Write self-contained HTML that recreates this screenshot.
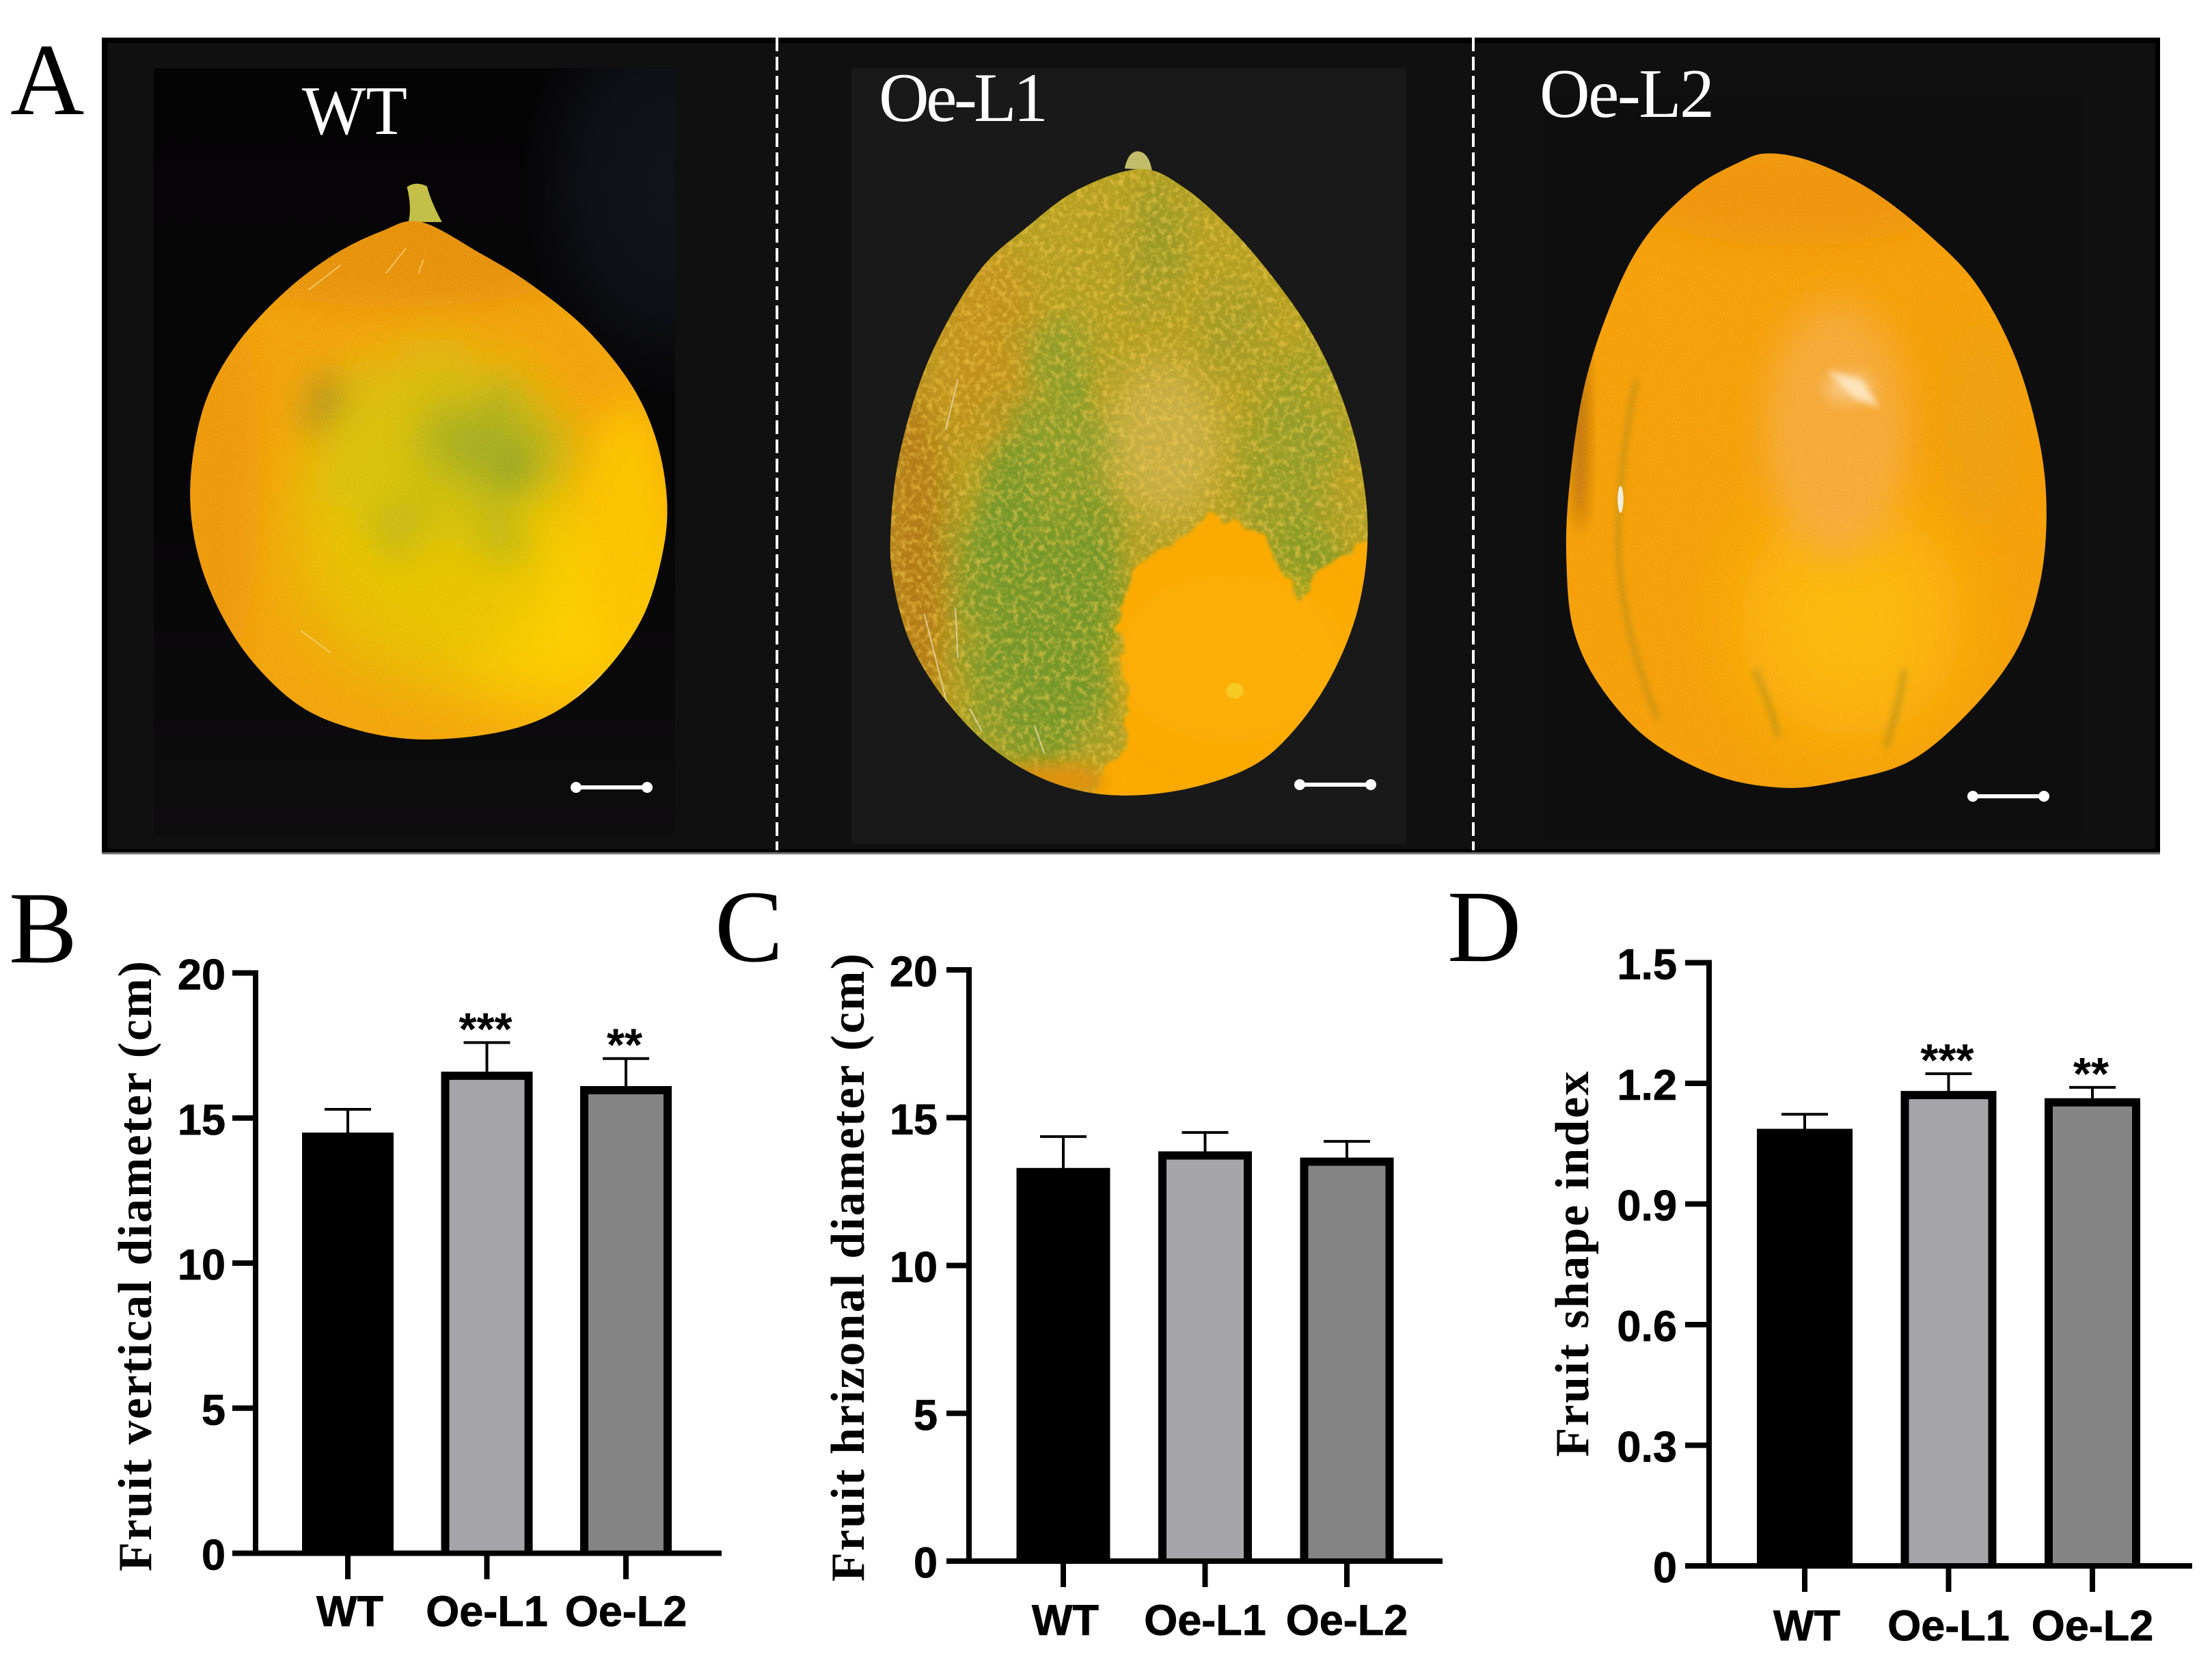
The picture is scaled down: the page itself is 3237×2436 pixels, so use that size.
<!DOCTYPE html>
<html lang="en">
<head>
<meta charset="utf-8">
<title>Melon fruit phenotype figure</title>
<style>
html,body{margin:0;padding:0;background:#fff;width:3237px;height:2436px;overflow:hidden}
svg{display:block}
.panel-letter{font-family:"Liberation Serif",serif;font-size:150px;fill:#000}
.photo-label{font-family:"Liberation Serif",serif;font-size:102px;fill:#fff}
.tick-label{font-family:"Liberation Sans",sans-serif;font-weight:bold;font-size:63px;fill:#000;stroke:#000;stroke-width:0.8px}
.axis-title{font-family:"Liberation Serif",serif;font-weight:bold;font-size:70px;fill:#000}
.star{font-family:"Liberation Sans",sans-serif;font-weight:bold;font-size:67px;fill:#000}
</style>
</head>
<body>
<svg id="figure" xmlns="http://www.w3.org/2000/svg" width="3237" height="2436" viewBox="0 0 3237 2436">
<defs>
  <linearGradient id="wt-inset-fill" x1="0" y1="0" x2="0" y2="1">
    <stop offset="0" stop-color="#050405"/>
    <stop offset="0.6" stop-color="#070607"/>
    <stop offset="1" stop-color="#0e0d0e"/>
  </linearGradient>
  <radialGradient id="wt-shadow-fill">
    <stop offset="0" stop-color="#14161d"/>
    <stop offset="0.55" stop-color="#11131a"/>
    <stop offset="1" stop-color="#11131a" stop-opacity="0"/>
  </radialGradient>
  <filter id="b6" x="-50%" y="-50%" width="200%" height="200%"><feGaussianBlur stdDeviation="6"/></filter>
  <filter id="b15" x="-50%" y="-50%" width="200%" height="200%"><feGaussianBlur stdDeviation="15"/></filter>
  <filter id="b35" x="-60%" y="-60%" width="220%" height="220%"><feGaussianBlur stdDeviation="35"/></filter>
  <filter id="b70" x="-80%" y="-80%" width="260%" height="260%"><feGaussianBlur stdDeviation="70"/></filter>
  <filter id="mottle" filterUnits="userSpaceOnUse" x="0" y="0" width="1600" height="1600">
    <feTurbulence type="fractalNoise" baseFrequency="0.012" numOctaves="3" seed="4" result="n"/>
    <feDisplacementMap in="SourceGraphic" in2="n" scale="130" xChannelSelector="R" yChannelSelector="G"/>
    <feGaussianBlur stdDeviation="12"/>
  </filter>
  <filter id="mottle-soft" filterUnits="userSpaceOnUse" x="0" y="0" width="1600" height="1600">
    <feTurbulence type="fractalNoise" baseFrequency="0.012" numOctaves="3" seed="4" result="n"/>
    <feDisplacementMap in="SourceGraphic" in2="n" scale="110" xChannelSelector="R" yChannelSelector="G"/>
    <feGaussianBlur stdDeviation="28"/>
  </filter>
  <filter id="edge" filterUnits="userSpaceOnUse" x="0" y="0" width="1600" height="1600">
    <feTurbulence type="fractalNoise" baseFrequency="0.03" numOctaves="2" seed="9" result="n"/>
    <feDisplacementMap in="SourceGraphic" in2="n" scale="34" xChannelSelector="R" yChannelSelector="G"/>
    <feGaussianBlur stdDeviation="3"/>
  </filter>
  <filter id="speckle" x="0" y="0" width="100%" height="100%">
    <feTurbulence type="fractalNoise" baseFrequency="0.09" numOctaves="2" seed="7"/>
    <feColorMatrix type="matrix" values="0 0 0 0 0.95  0 0 0 0 0.62  0 0 0 0 0.08  2.8 0 0 0 -1.2"/>
  </filter>
  <filter id="grain" x="0" y="0" width="100%" height="100%">
    <feTurbulence type="fractalNoise" baseFrequency="0.22" numOctaves="2" seed="3"/>
    <feColorMatrix type="matrix" values="0 0 0 0 0.98  0 0 0 0 0.72  0 0 0 0 0.1  2 0 0 0 -0.9"/>
  </filter>
  <clipPath id="clip-wt"><path id="clip-wt-path"/></clipPath>
  <clipPath id="clip-l1"><path id="clip-l1-path"/></clipPath>
  <clipPath id="clip-l2"><path id="clip-l2-path"/></clipPath>
  <clipPath id="clip-wt-inset"><rect x="307" y="123" width="1040" height="1374"/></clipPath>
</defs>

<rect width="3237" height="2436" fill="#fff"/>

<!-- Panel A -->
<g>
  <rect x="149" y="55" width="3012" height="1195" fill="#000"/>
  <rect x="157" y="63" width="2997" height="1179" fill="#101010"/>
  <rect x="149" y="1247" width="3012" height="3" fill="#777"/>

  <rect x="225" y="100" width="763" height="1122" fill="url(#wt-inset-fill)"/>
  <rect x="1246" y="100" width="812" height="1134" fill="#191919"/>
  <rect x="2261" y="140" width="787" height="1085" fill="#0e0e0e"/>

  <!-- WT fruit -->
  <g transform="scale(0.7334 0.8163)">
    <g clip-path="url(#clip-wt-inset)">
      <ellipse cx="1340" cy="330" rx="300" ry="380" fill="url(#wt-shadow-fill)" opacity="0.85"/>
    </g>
    <path id="wt-stem" d="M812 335 Q830 324 852 334 Q860 362 882 398 L815 398 Q822 370 812 335Z" fill="#c4bf48"/>
    <path id="wt-body" fill="#f2a40c"/>
    <g clip-path="url(#clip-wt)">
      <ellipse cx="800" cy="440" rx="420" ry="110" fill="#e69210" filter="url(#b35)"/>
      <ellipse cx="430" cy="850" rx="90" ry="360" fill="#ee9a0a" filter="url(#b35)"/>
      <ellipse cx="1110" cy="1080" rx="250" ry="200" fill="#ffcf00" filter="url(#b70)"/>
      <ellipse cx="1250" cy="950" rx="90" ry="230" fill="#fdc402" filter="url(#b35)"/>
      <ellipse cx="850" cy="960" rx="260" ry="250" fill="#e6c404" filter="url(#b70)"/>
      <g filter="url(#mottle-soft)">
        <ellipse cx="880" cy="800" rx="250" ry="180" fill="#d4c20e" opacity="0.7" filter="url(#b35)"/>
        <ellipse cx="960" cy="800" rx="120" ry="90" fill="#9cab28" opacity="0.85" filter="url(#b35)"/>
        <ellipse cx="1035" cy="840" rx="36" ry="34" fill="#86a02c" opacity="0.85" filter="url(#b15)"/>
        <ellipse cx="640" cy="715" rx="50" ry="42" fill="#a8921e" opacity="0.8" filter="url(#b15)"/>
        <ellipse cx="800" cy="930" rx="60" ry="50" fill="#bcb41c" opacity="0.6" filter="url(#b15)"/>
        <ellipse cx="1000" cy="950" rx="50" ry="50" fill="#b2b41e" opacity="0.6" filter="url(#b15)"/>
      </g>
      <rect x="370" y="390" width="970" height="940" filter="url(#grain)" opacity="0.16"/>
      <path d="M615 520 L680 475 M770 490 L810 445 M835 490 L845 465 M600 1130 L660 1170 M1150 1250 L1200 1210" stroke="#f4d070" stroke-width="3" fill="none" opacity="0.7"/>
    </g>
  </g>

  <!-- Oe-L1 fruit -->
  <g transform="translate(1100 0) scale(0.7015 0.8163)">
    <path d="M778 302 Q785 272 805 271 Q828 272 835 305Z" fill="#c2bd6a"/>
    <path id="l1-body" fill="#b5a024"/>
    <g clip-path="url(#clip-l1)">
      <ellipse cx="340" cy="1000" rx="70" ry="340" fill="#b57c12" filter="url(#b35)"/>
      <ellipse cx="480" cy="620" rx="120" ry="190" fill="#c1931a" filter="url(#b35)"/>
      <g filter="url(#mottle)">
        <ellipse cx="610" cy="1060" rx="180" ry="320" fill="#76982a" filter="url(#b35)"/>
        <ellipse cx="650" cy="760" rx="80" ry="200" fill="#8a9d2a" filter="url(#b35)"/>
        <ellipse cx="840" cy="430" rx="60" ry="110" fill="#87962a" opacity="0.65" filter="url(#b35)"/>
        <ellipse cx="1130" cy="860" rx="90" ry="230" fill="#8d9d2a" opacity="0.85" filter="url(#b35)"/>
        <ellipse cx="1170" cy="1010" rx="70" ry="70" fill="#8a9c28" filter="url(#b15)"/>
        <ellipse cx="1010" cy="590" rx="50" ry="90" fill="#93992a" opacity="0.6" filter="url(#b35)"/>
      </g>
      <ellipse cx="860" cy="790" rx="120" ry="140" fill="#c9b14c" opacity="0.85" filter="url(#b35)"/>
      <rect x="280" y="270" width="1020" height="1170" filter="url(#speckle)" opacity="0.55"/>
      <path filter="url(#edge)" d="M790 1020 L960 925 L1060 950 L1100 1010 L1140 1080 L1200 1010 L1300 960 L1320 1450 L680 1450 L790 1320 L765 1120Z" fill="#fbaa06"/>
      <ellipse cx="1000" cy="1180" rx="240" ry="150" fill="#ffb208" opacity="0.6" filter="url(#b35)"/>
      <ellipse cx="620" cy="1400" rx="120" ry="30" fill="#e0920c" filter="url(#b15)"/>
      <path d="M430 680 L405 770 M360 1100 L410 1270 M425 1090 L430 1180 M590 1300 L610 1350 M455 1270 L480 1310" stroke="#e9dcb0" stroke-width="3" fill="none" opacity="0.75"/>
      <ellipse cx="1008" cy="1238" rx="18" ry="14" fill="#f5cf2a" opacity="0.8"/>
    </g>
  </g>

  <!-- Oe-L2 fruit -->
  <g transform="translate(2130 0) scale(0.706 0.8163)">
    <path id="l2-body" fill="#f5a00a"/>
    <g clip-path="url(#clip-l2)">
      <ellipse cx="700" cy="350" rx="330" ry="90" fill="#ef950f" filter="url(#b35)"/>
      <ellipse cx="258" cy="760" rx="16" ry="190" fill="#b8700f" filter="url(#b15)"/>
      <ellipse cx="820" cy="1110" rx="230" ry="210" fill="#fbb807" filter="url(#b70)"/>
      <ellipse cx="790" cy="770" rx="150" ry="230" fill="#f5ac40" opacity="0.9" filter="url(#b35)"/>
      <ellipse cx="815" cy="695" rx="50" ry="22" fill="#fbd9b0" opacity="0.7" filter="url(#b15)"/>
      <path d="M770 665 L840 680 L880 730 L830 715 Z" fill="#fff0d8" opacity="0.75" filter="url(#b6)"/>
      <ellipse cx="1090" cy="760" rx="70" ry="170" fill="#e6a212" opacity="0.6" filter="url(#b35)"/>
      <g filter="url(#b6)" opacity="0.5" fill="none" stroke="#ab8a1c">
        <path d="M375 680 Q345 800 338 930 Q330 1100 420 1290" stroke-width="12"/>
        <path d="M620 1200 Q650 1260 670 1320 M930 1200 Q920 1270 890 1340" stroke-width="14"/>
      </g>
      <rect x="220" y="270" width="1020" height="1150" filter="url(#grain)" opacity="0.14"/>
      <ellipse cx="342" cy="895" rx="6" ry="24" fill="#efeedd"/>
    </g>
  </g>

  <g fill="none" stroke="#fff" stroke-width="4" stroke-dasharray="20 8">
    <line x1="1137" y1="55" x2="1137" y2="1244"/>
    <line x1="2156" y1="55" x2="2156" y2="1244"/>
  </g>

  <g stroke="#fff" stroke-width="6" fill="#fff">
    <line x1="843" y1="1152" x2="947" y2="1152"/><circle cx="843" cy="1152" r="8" stroke="none"/><circle cx="947" cy="1152" r="8" stroke="none"/>
  </g>
  <g stroke="#fff" stroke-width="6" fill="#fff">
    <line x1="1902" y1="1148" x2="2006" y2="1148"/><circle cx="1902" cy="1148" r="8" stroke="none"/><circle cx="2006" cy="1148" r="8" stroke="none"/>
  </g>
  <g stroke="#fff" stroke-width="6" fill="#fff">
    <line x1="2887" y1="1165" x2="2991" y2="1165"/><circle cx="2887" cy="1165" r="8" stroke="none"/><circle cx="2991" cy="1165" r="8" stroke="none"/>
  </g>

  <text class="photo-label" x="442" y="196" textLength="154" lengthAdjust="spacingAndGlyphs">WT</text>
  <text class="photo-label" x="1286" y="177" textLength="248" lengthAdjust="spacing">Oe-L1</text>
  <text class="photo-label" x="2253" y="171" textLength="256" lengthAdjust="spacing">Oe-L2</text>
</g>

<text class="panel-letter" x="15" y="167">A</text>
<text class="panel-letter" x="13" y="1408">B</text>
<text class="panel-letter" x="1046" y="1406">C</text>
<text class="panel-letter" x="2118" y="1406">D</text>

<g id="charts"></g>
</svg>

<script>
// ---- Chart data ----
var categories = ['WT', 'Oe-L1', 'Oe-L2'];
var barFills = ['#000000', '#a5a4a8', '#848484'];

var verticalMeans = [14.5, 16.6, 16.1];
var verticalErrors = [0.8, 1.0, 0.95];
var verticalStars = ['', '***', '**'];
var verticalTicks = [0, 5, 10, 15, 20];
var verticalTickLabels = ['0', '5', '10', '15', '20'];

var horizontalMeans = [13.3, 13.86, 13.65];
var horizontalErrors = [1.06, 0.64, 0.55];
var horizontalStars = ['', '', ''];
var horizontalTicks = [0, 5, 10, 15, 20];
var horizontalTickLabels = ['0', '5', '10', '15', '20'];

var shapeMeans = [1.087, 1.181, 1.163];
var shapeErrors = [0.036, 0.043, 0.027];
var shapeStars = ['', '***', '**'];
var shapeTicks = [0, 0.3, 0.6, 0.9, 1.2, 1.5];
var shapeTickLabels = ['0', '0.3', '0.6', '0.9', '1.2', '1.5'];

// ---- Fruit outlines (photo illustration, not chart data) ----
var wtOutline = [[840,398],[960,455],[1060,510],[1170,590],[1260,690],[1310,790],[1331,900],[1320,1000],[1280,1110],[1200,1210],[1100,1280],[980,1315],[830,1325],[700,1305],[590,1260],[490,1170],[420,1060],[385,950],[382,840],[410,720],[470,620],[560,530],[660,460],[760,415]];
var l1Outline = [[810,303],[900,335],[1000,410],[1090,500],[1170,600],[1230,710],[1270,830],[1285,960],[1265,1090],[1210,1210],[1130,1310],[1040,1375],[900,1415],[750,1425],[620,1400],[500,1340],[400,1250],[330,1150],[295,1040],[290,950],[305,830],[345,700],[400,590],[480,480],[570,410],[680,340]];
var l2Outline = [[650,275],[740,290],[860,340],[980,420],[1080,510],[1160,640],[1210,790],[1225,920],[1210,1050],[1160,1170],[1060,1280],[940,1365],[800,1400],[680,1412],[540,1390],[400,1325],[300,1230],[245,1130],[230,1010],[235,880],[265,700],[320,550],[390,430],[490,340],[590,290]];

function smoothClosed(p) {
  var n = p.length, d = 'M' + p[0][0] + ' ' + p[0][1];
  for (var i = 0; i < n; i++) {
    var p0 = p[(i - 1 + n) % n], p1 = p[i], p2 = p[(i + 1) % n], p3 = p[(i + 2) % n];
    d += ' C' + (p1[0] + (p2[0] - p0[0]) / 6).toFixed(1) + ' ' + (p1[1] + (p2[1] - p0[1]) / 6).toFixed(1) +
         ' ' + (p2[0] - (p3[0] - p1[0]) / 6).toFixed(1) + ' ' + (p2[1] - (p3[1] - p1[1]) / 6).toFixed(1) +
         ' ' + p2[0] + ' ' + p2[1];
  }
  return d + 'Z';
}
document.getElementById('wt-body').setAttribute('d', smoothClosed(wtOutline));
document.getElementById('clip-wt-path').setAttribute('d', smoothClosed(wtOutline));
document.getElementById('l1-body').setAttribute('d', smoothClosed(l1Outline));
document.getElementById('clip-l1-path').setAttribute('d', smoothClosed(l1Outline));
document.getElementById('l2-body').setAttribute('d', smoothClosed(l2Outline));
document.getElementById('clip-l2-path').setAttribute('d', smoothClosed(l2Outline));

// ---- Chart drawing ----
var NS = 'http://www.w3.org/2000/svg';
function make(tag, parent, attrs, text) {
  var el = document.createElementNS(NS, tag);
  for (var k in attrs) el.setAttribute(k, attrs[k]);
  if (text !== undefined) el.textContent = text;
  parent.appendChild(el);
  return el;
}

function drawChart(cfg) {
  var root = document.getElementById('charts');
  var g = make('g', root, {});
  
  

  var yMax = cfg.ticks[cfg.ticks.length - 1];
  function yScale(v) { return cfg.y0 - (v / yMax) * (cfg.y0 - cfg.yTop); }
  function xScale(i) { return cfg.xFirst + i * cfg.xStep; }

  // bars and error bars
  cfg.means.forEach(function (m, i) {
    var cx = xScale(i), top = yScale(m), errTop = yScale(m + cfg.errors[i]);
    var whisker = make('line', g, {x1: cx, x2: cx, y1: top, y2: errTop, stroke: '#000', 'stroke-width': 4});
    
    
    var cap = make('line', g, {x1: cx - 34, x2: cx + 34, y1: errTop, y2: errTop, stroke: '#000', 'stroke-width': 4});
    
    
    var inset = 6;
    var l = cx - cfg.barW / 2 + inset, r = cx + cfg.barW / 2 - inset, t = top + inset;
    var bar = make('path', g, {
      d: 'M' + l + ' ' + cfg.y0 + ' L' + l + ' ' + t + ' L' + r + ' ' + t + ' L' + r + ' ' + cfg.y0,
      fill: barFills[i], stroke: '#000', 'stroke-width': 12
    });
    
    
    if (cfg.stars[i]) {
      var star = make('text', g, {'class': 'star', x: cx - 2, y: errTop + 3, 'text-anchor': 'middle'}, cfg.stars[i]);
      
      
    }
  });

  // axes
  var yAxis = make('line', g, {x1: cfg.x0, x2: cfg.x0, y1: yScale(yMax) - 4, y2: cfg.y0 + 4, stroke: '#000', 'stroke-width': 8});
  
  
  var xAxis = make('line', g, {x1: cfg.tickLeft, x2: cfg.xEnd, y1: cfg.y0, y2: cfg.y0, stroke: '#000', 'stroke-width': 8});
  
  

  cfg.ticks.forEach(function (t, i) {
    var y = yScale(t);
    var tick = make('line', g, {x1: cfg.tickLeft, x2: cfg.x0, y1: y, y2: y, stroke: '#000', 'stroke-width': 8});
    
    
    var label = make('text', g, {'class': 'tick-label', x: cfg.labelEnd, y: y + 24, 'text-anchor': 'end'}, cfg.tickLabels[i]);
    
    
  });

  categories.forEach(function (c, i) {
    var cx = xScale(i);
    var tick = make('line', g, {x1: cx, x2: cx, y1: cfg.y0, y2: cfg.y0 + 38, stroke: '#000', 'stroke-width': 8});
    
    
    var label = make('text', g, {'class': 'tick-label', x: cx + (i === 0 ? 3 : 0), y: cfg.catY, 'text-anchor': 'middle'}, c);
    
    
  });

  var title = make('text', g, {
    'class': 'axis-title',
    transform: 'translate(' + cfg.titleX + ' ' + cfg.titleBottom + ') rotate(-90)',
    x: 0, y: 0, textLength: cfg.titleLen, lengthAdjust: 'spacing'
  }, cfg.title);
  
  
}

drawChart({
  name: 'chart-fruit-vertical-diameter', means: verticalMeans, errors: verticalErrors, stars: verticalStars,
  ticks: verticalTicks, tickLabels: verticalTickLabels, title: 'Fruit vertical diameter (cm)',
  x0: 374, y0: 2272.5, yTop: 1423.5, tickLeft: 340, xEnd: 1056, labelEnd: 330,
  xFirst: 509, xStep: 203.5, barW: 134, catY: 2379,
  titleX: 221, titleBottom: 2299, titleLen: 893
});
drawChart({
  name: 'chart-fruit-horizontal-diameter', means: horizontalMeans, errors: horizontalErrors, stars: horizontalStars,
  ticks: horizontalTicks, tickLabels: horizontalTickLabels, title: 'Fruit hrizonal diameter (cm)',
  x0: 1418, y0: 2284, yTop: 1419, tickLeft: 1385, xEnd: 2111, labelEnd: 1372,
  xFirst: 1556, xStep: 207.5, barW: 137, catY: 2392,
  titleX: 1264, titleBottom: 2314, titleLen: 919
});
drawChart({
  name: 'chart-fruit-shape-index', means: shapeMeans, errors: shapeErrors, stars: shapeStars,
  ticks: shapeTicks, tickLabels: shapeTickLabels, title: 'Fruit shape index',
  x0: 2501, y0: 2291, yTop: 1408.5, tickLeft: 2466, xEnd: 3208, labelEnd: 2454,
  xFirst: 2641, xStep: 210.5, barW: 140, catY: 2400,
  titleX: 2324, titleBottom: 2131.5, titleLen: 564
});
</script>
</body>
</html>
